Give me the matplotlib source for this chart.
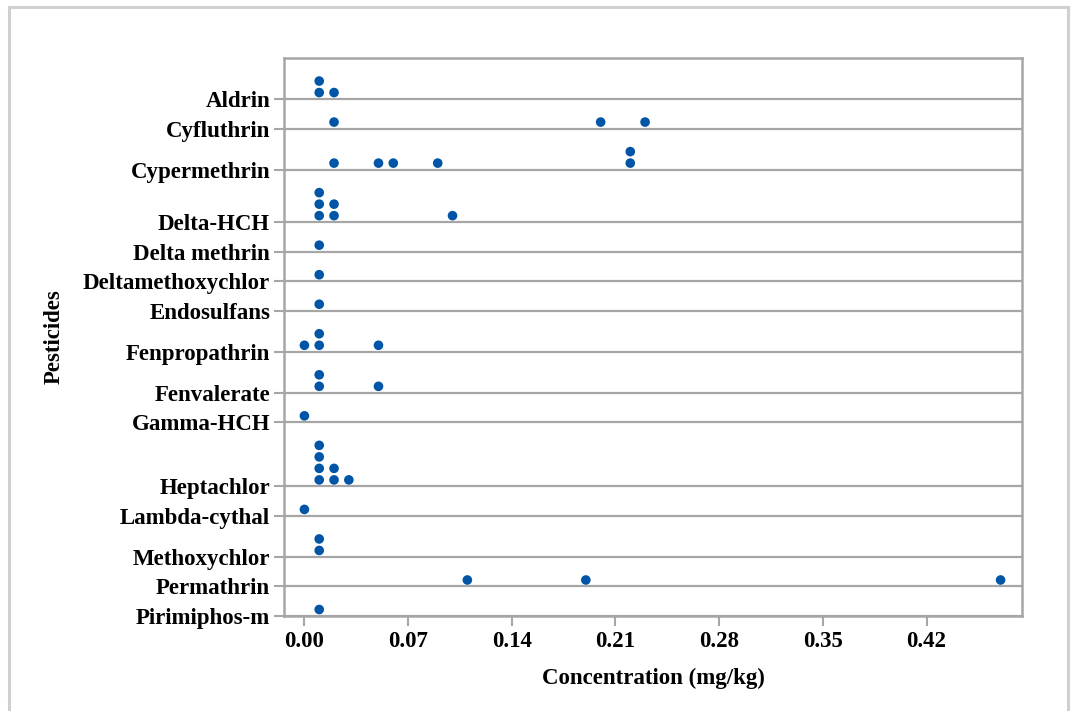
import matplotlib
matplotlib.use('Agg')
import matplotlib.pyplot as plt
from matplotlib.patches import Rectangle
from collections import Counter

plt.rcParams['font.family'] = ['Liberation Serif', 'DejaVu Serif']
plt.rcParams['font.weight'] = 'bold'

# pesticide residues (mg/kg), top to bottom
pesticides = ['Aldrin', 'Cyfluthrin', 'Cypermethrin', 'Delta-HCH', 'Delta methrin',
              'Deltamethoxychlor', 'Endosulfans', 'Fenpropathrin', 'Fenvalerate',
              'Gamma-HCH', 'Heptachlor', 'Lambda-cythal', 'Methoxychlor',
              'Permathrin', 'Pirimiphos-m']

aldrin = [0.01, 0.01, 0.02]
cyfluthrin = [0.02, 0.20, 0.23]
cypermethrin = [0.02, 0.05, 0.06, 0.09, 0.22, 0.22]
delta_hch = [0.01, 0.01, 0.01, 0.02, 0.02, 0.10]
delta_methrin = [0.01]
deltamethoxychlor = [0.01]
endosulfans = [0.01]
fenpropathrin = [0.00, 0.01, 0.01, 0.05]
fenvalerate = [0.01, 0.01, 0.05]
gamma_hch = [0.00]
heptachlor = [0.01, 0.01, 0.01, 0.01, 0.02, 0.02, 0.03]
lambda_cythal = [0.00]
methoxychlor = [0.01, 0.01]
permathrin = [0.11, 0.19, 0.47]
pirimiphos_m = [0.01]

values = [aldrin, cyfluthrin, cypermethrin, delta_hch, delta_methrin,
          deltamethoxychlor, endosulfans, fenpropathrin, fenvalerate,
          gamma_hch, heptachlor, lambda_cythal, methoxychlor,
          permathrin, pirimiphos_m]

xticks = [0.00, 0.07, 0.14, 0.21, 0.28, 0.35, 0.42]

DOT_STEP = 11.5   # vertical distance between stacked dots
FIRST = 6.5       # first dot above the band baseline
PAD = 18.0        # band height beyond the dot stack
BLUE = '#0055a6'
GREY = '#a6a6a6'

# build bands bottom-up; each band is as tall as its largest stack
baselines = {}
xs, ys = [], []
y0 = 0.0
for name, vals in reversed(list(zip(pesticides, values))):
    baselines[name] = y0
    seen = Counter()
    for v in vals:
        xs.append(v)
        ys.append(y0 + FIRST + DOT_STEP * seen[v])
        seen[v] += 1
    y0 += PAD + DOT_STEP * max(Counter(vals).values())
ytop = y0

fig = plt.figure(figsize=(10.72, 7.11), dpi=100)
ax = fig.add_axes([0.2649, 0.1336, 0.6885, 0.7848])

ticks_y = [baselines[n] for n in pesticides]
for y in ticks_y:
    ax.axhline(y, color=GREY, lw=1.6, zorder=1)
ax.scatter(xs, ys, s=48, color=BLUE, edgecolors='none', zorder=3)

ax.set_xlim(-0.0138, 0.4845)
ax.set_ylim(0, ytop)
ax.set_xticks(xticks)
ax.set_xticklabels(['%.2f' % t for t in xticks])
ax.set_yticks(ticks_y)
ax.set_yticklabels(pesticides)
for s in ax.spines.values():
    s.set_color(GREY)
    s.set_linewidth(1.8)
ax.tick_params(colors=GREY, length=7, width=1.5, labelcolor='black', labelsize=16.5)
ax.tick_params(axis='y', pad=3)
ax.tick_params(axis='x', pad=3.5)

ax.set_xlabel('Concentration (mg/kg)', fontsize=16.5, fontweight='bold', labelpad=12)
ax.set_ylabel('Pesticides', fontsize=16.5, fontweight='bold')
ax.yaxis.set_label_coords(-0.297, 0.5)

# outer chart border
fig.patches.append(Rectangle((8.5 / 1072, -0.05), 1059 / 1072, (711 - 7.5) / 711 + 0.05,
                             transform=fig.transFigure, fill=False,
                             edgecolor='#d0d0d0', linewidth=2.2))

fig.savefig('out.png', dpi=100)
